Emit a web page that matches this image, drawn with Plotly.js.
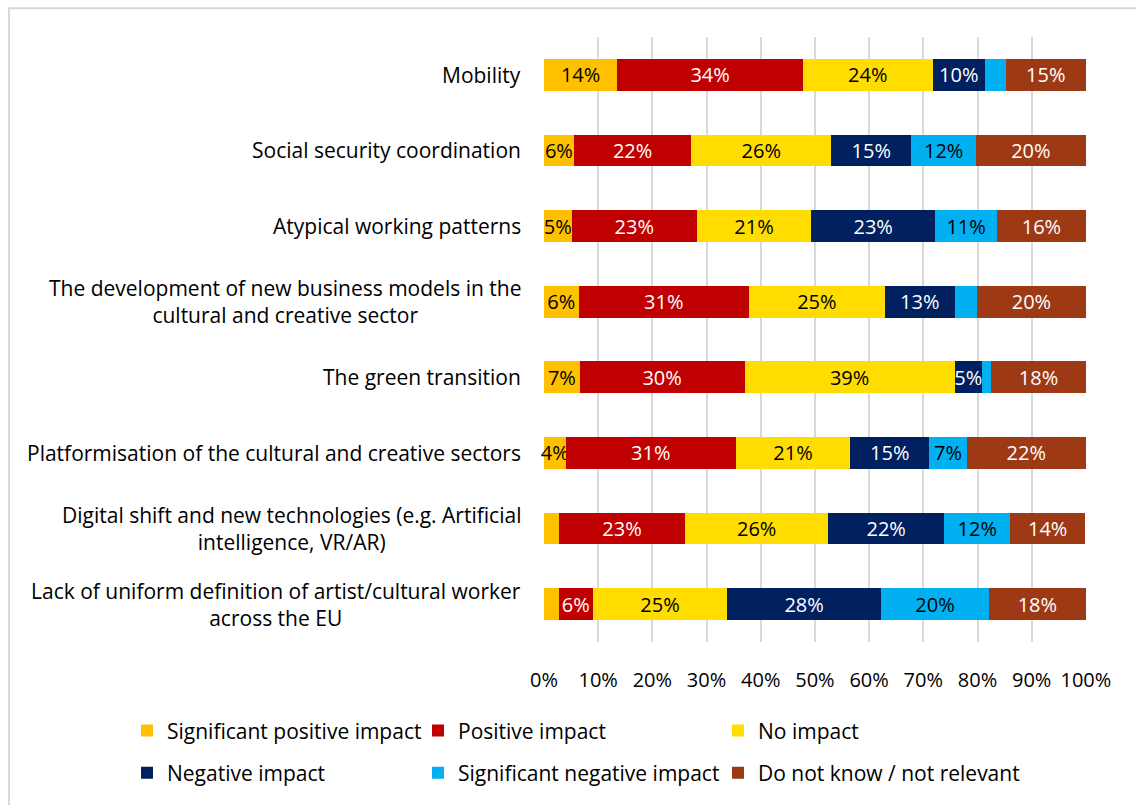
<!DOCTYPE html>
<html><head><meta charset="utf-8">
<script src="https://cdn.plot.ly/plotly-3.0.1.min.js"></script>
<style>html,body{margin:0;padding:0;background:#fff;}#chart{width:1136px;height:805px;}</style>
</head><body><div id="chart"></div>
<script>
// Categories (top to bottom)
const categories = [
  "Mobility",
  "Social security coordination",
  "Atypical working patterns",
  "The development of new business models in the<br>cultural and creative sector",
  "The green transition",
  "Platformisation of the cultural and creative sectors",
  "Digital shift and new technologies (e.g. Artificial<br>intelligence, VR/AR)",
  "Lack of uniform definition of artist/cultural worker<br>across the EU"
];
// Series values (% of respondents)
const sigPositive = [13.5, 5.5, 5.1, 6.4, 6.6, 4.0, 2.7, 2.7];
const positive    = [34.3, 21.7, 23.1, 31.4, 30.4, 31.4, 23.4, 6.3];
const noImpact    = [23.9, 25.8, 21.1, 25.1, 38.8, 21.1, 26.3, 24.8];
const negative    = [9.7, 14.8, 22.9, 12.9, 5.0, 14.6, 21.5, 28.4];
const sigNegative = [3.8, 11.9, 11.4, 4.1, 1.7, 6.9, 12.1, 19.9];
const dontKnow    = [14.8, 20.3, 16.4, 20.1, 17.5, 22.0, 13.9, 17.9];
// Series names
const seriesNames = ["Significant positive impact", "Positive impact", "No impact",
  "Negative impact", "Significant negative impact", "Do not know / not relevant"];
// Segments whose data label is not shown in the original (series index : category index)
const hiddenLabels = ["4:0", "4:3", "4:4", "0:6", "0:7"];
// X tick labels
const tickVals = [0,10,20,30,40,50,60,70,80,90,100];
const tickText = ["0%","10%","20%","30%","40%","50%","60%","70%","80%","90%","100%"];

const allSeries = [sigPositive, positive, noImpact, negative, sigNegative, dontKnow];
const colors = ["#FFC000", "#C00000", "#FFDD00", "#002060", "#00B0F0", "#9E3915"];
const textColors = ["#000", "#fff", "#000", "#fff", "#000", "#fff"];
const FONT = "'Open Sans', 'Noto Sans', sans-serif";
const FS_CAT = 21, FS_BAR = 20, FS_TICK = 20, FS_LEG = 21;
const legendIds = ["legend", "legend2", "legend3"];

const traces = allSeries.map((vals, s) => ({
  type: "bar",
  orientation: "h",
  name: seriesNames[s],
  y: categories,
  x: vals,
  marker: {color: colors[s], line: {width: 0}},
  text: vals.map((v, i) => hiddenLabels.includes(s + ":" + i) ? "" : Math.round(v) + "%"),
  textposition: "inside",
  insidetextanchor: "middle",
  textangle: 0,
  constraintext: "none",
  cliponaxis: false,
  textfont: {family: FONT, size: FS_BAR, color: textColors[s]},
  hoverinfo: "skip",
  legend: legendIds[s % 3],
  legendgroup: "g" + s
}));

const W = 1136, H = 805, ML = 544, MR = 50, MT = 37, MB = 157;
const pw = W - ML - MR, ph = H - MT - MB;
const px2x = p => (p - ML) / pw;
const py2y = p => 1 - (p - MT) / ph;

const annotations = categories.map(c => ({
  xref: "paper", yref: "y", x: 0, y: c, xanchor: "right", yanchor: "middle",
  xshift: -21, text: c, showarrow: false, align: "center",
  font: {family: FONT, size: FS_CAT, color: "#000"}
}));

const legendCommon = {
  orientation: "v", xanchor: "left", yanchor: "top",
  itemwidth: 30, traceorder: "grouped", tracegroupgap: 12,
  font: {family: FONT, size: FS_LEG, color: "#000"}, bgcolor: "rgba(0,0,0,0)"
};
const LEG_TOP = 717;

const layout = {
  width: W, height: H,
  margin: {l: ML, r: MR, t: MT, b: MB},
  paper_bgcolor: "#fff", plot_bgcolor: "#fff",
  barmode: "stack",
  bargap: 0.58,
  showlegend: true,
  xaxis: {
    range: [0, 100.02], tickvals: tickVals, ticktext: tickText,
    showgrid: true, gridcolor: "#D9D9D9", gridwidth: 2,
    zeroline: false, showline: false, ticks: "",
    ticklabelstandoff: 24,
    tickfont: {family: FONT, size: FS_TICK, color: "#000"},
    fixedrange: true
  },
  yaxis: {
    type: "category", categoryorder: "array", categoryarray: categories,
    autorange: "reversed", showticklabels: false, showgrid: false,
    zeroline: false, showline: false, ticks: "", fixedrange: true
  },
  legend: Object.assign({}, legendCommon, {x: px2x(127), y: py2y(LEG_TOP)}),
  legend2: Object.assign({}, legendCommon, {x: px2x(418), y: py2y(LEG_TOP)}),
  legend3: Object.assign({}, legendCommon, {x: px2x(718), y: py2y(LEG_TOP)}),
  annotations: annotations,
  shapes: [
    {type: "line", xref: "paper", yref: "paper", x0: px2x(9), x1: px2x(9), y0: py2y(820), y1: py2y(8),
     line: {color: "#D9D9D9", width: 2}},
    {type: "line", xref: "paper", yref: "paper", x0: px2x(8), x1: px2x(1150), y0: py2y(8), y1: py2y(8),
     line: {color: "#D9D9D9", width: 2}}
  ]
};

Plotly.newPlot("chart", traces, layout, {displayModeBar: false, staticPlot: true});
</script>
</body></html>
